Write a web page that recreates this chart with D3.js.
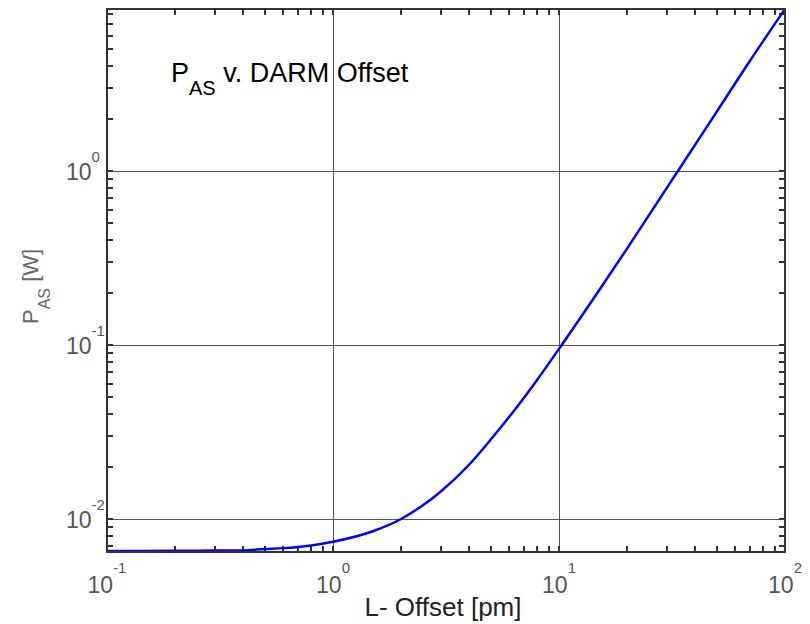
<!DOCTYPE html>
<html>
<head>
<meta charset="utf-8">
<script src="https://cdn.jsdelivr.net/npm/d3@7"></script>
<style>
  body { margin: 0; background: #fff; }
  text { font-family: "Liberation Sans", Arial, sans-serif; }
</style>
</head>
<body>
<script>
// L- offset [pm] and the power at the AS port [W]
var offsetPm = [0.1, 0.2, 0.3, 0.4, 0.5, 0.6, 0.8, 1, 1.5, 2, 2.5, 3, 4, 5, 6, 7, 8, 10, 15, 20, 30, 33.6, 50, 70, 100];
var powerW = [0.00655, 0.00656, 0.00658, 0.0066, 0.00672, 0.0068, 0.00705, 0.0074, 0.0085, 0.0100, 0.0120, 0.0144,
  0.0205, 0.0287, 0.0384, 0.0498, 0.0630, 0.095, 0.205, 0.358, 0.80, 1.0, 2.2, 4.3, 8.53];

var xDecades = [-1, 0, 1, 2];
var yDecades = [-2, -1, 0];

var margin = { top: 9, right: 25, bottom: 72, left: 107 };
var width = 810, height = 624;

var svg = d3.select("body").append("svg")
  .attr("width", width)
  .attr("height", height);

var x = d3.scaleLog().domain([0.1, 100]).range([margin.left, width - margin.right]);
var y = d3.scaleLog().domain([0.00646, 8.53]).range([height - margin.bottom, margin.top]);

var x0 = x.range()[0], x1 = x.range()[1];
var y0 = y.range()[0], y1 = y.range()[1];

// minor + major tick positions
var xTicks = x.ticks();
var yTicks = y.ticks().filter(function (v) { return v >= 0.00646 && v <= 8.53; });

// grid
var grid = svg.append("g").attr("class", "grid")
  .attr("stroke", "#555").attr("stroke-width", 1);
grid.selectAll(".vg")
  .data(xDecades.filter(function (d) { return d > -1 && d < 2; })).enter()
  .append("line")
  .attr("x1", function (d) { return Math.round(x(Math.pow(10, d))) + 0.5; })
  .attr("x2", function (d) { return Math.round(x(Math.pow(10, d))) + 0.5; })
  .attr("y1", y1).attr("y2", y0);
grid.selectAll(".hg")
  .data(yDecades).enter()
  .append("line")
  .attr("y1", function (d) { return Math.round(y(Math.pow(10, d))) + 0.5; })
  .attr("y2", function (d) { return Math.round(y(Math.pow(10, d))) + 0.5; })
  .attr("x1", x0).attr("x2", x1);

// ticks on all four sides, pointing inward
var tickLen = 6;
var ticks = svg.append("g").attr("class", "ticks")
  .attr("stroke", "#333").attr("stroke-width", 2);
[y0, y1].forEach(function (yy, k) {
  ticks.selectAll(".xt" + k)
    .data(xTicks).enter()
    .append("line")
    .attr("x1", function (d) { return Math.round(x(d)); })
    .attr("x2", function (d) { return Math.round(x(d)); })
    .attr("y1", yy)
    .attr("y2", k === 0 ? yy - tickLen : yy + tickLen);
});
[x0, x1].forEach(function (xx, k) {
  ticks.selectAll(".yt" + k)
    .data(yTicks).enter()
    .append("line")
    .attr("y1", function (d) { return Math.round(y(d)); })
    .attr("y2", function (d) { return Math.round(y(d)); })
    .attr("x1", xx)
    .attr("x2", k === 0 ? xx + tickLen : xx - tickLen);
});

// curve
var line = d3.line()
  .x(function (d, i) { return x(offsetPm[i]); })
  .y(function (d) { return y(d); })
  .curve(d3.curveMonotoneX);

svg.append("path")
  .datum(powerW)
  .attr("fill", "none")
  .attr("stroke", "#0000ff")
  .attr("stroke-width", 2.5)
  .attr("d", line);

// frame
svg.append("rect")
  .attr("x", x0).attr("y", y1)
  .attr("width", x1 - x0).attr("height", y0 - y1)
  .attr("fill", "none")
  .attr("stroke", "#333")
  .attr("stroke-width", 2);

// x tick labels
var xl = svg.selectAll(".xl")
  .data(xDecades).enter()
  .append("text")
  .attr("class", "xl")
  .attr("x", function (d) { return x(Math.pow(10, d)); })
  .attr("y", 593)
  .attr("text-anchor", "middle")
  .attr("fill", "#555")
  .style("font-size", "23px");
xl.append("tspan").text("10");
xl.append("tspan").attr("dy", -20).style("font-size", "15px")
  .text(function (d) { return d < 0 ? "-" + (-d) : String(d); });

// y tick labels
var yl = svg.selectAll(".yl")
  .data(yDecades).enter()
  .append("text")
  .attr("class", "yl")
  .attr("x", 66)
  .attr("y", function (d) { return y(Math.pow(10, d)) + 9; })
  .attr("fill", "#555")
  .style("font-size", "23px");
yl.append("tspan").text("10");
yl.append("tspan").attr("dy", -18).style("font-size", "15px")
  .text(function (d) { return d < 0 ? "-" + (-d) : String(d); });

// title
var title = svg.append("text")
  .attr("x", 171).attr("y", 82)
  .attr("fill", "#000")
  .style("font-size", "27px");
title.append("tspan").text("P");
title.append("tspan").attr("dy", 13).style("font-size", "20px").text("AS");
title.append("tspan").attr("dy", -13).text(" v. DARM Offset");

// x axis label
svg.append("text")
  .attr("x", 443).attr("y", 616)
  .attr("text-anchor", "middle")
  .attr("fill", "#222")
  .style("font-size", "26px")
  .text("L- Offset [pm]");

// y axis label
var ylab = svg.append("text")
  .attr("transform", "translate(38,324) rotate(-90)")
  .attr("fill", "#666")
  .style("font-size", "22px");
ylab.append("tspan").text("P");
ylab.append("tspan").attr("dy", 12).style("font-size", "16px").text("AS");
ylab.append("tspan").attr("dy", -12).text(" [W]");
</script>
</body>
</html>
